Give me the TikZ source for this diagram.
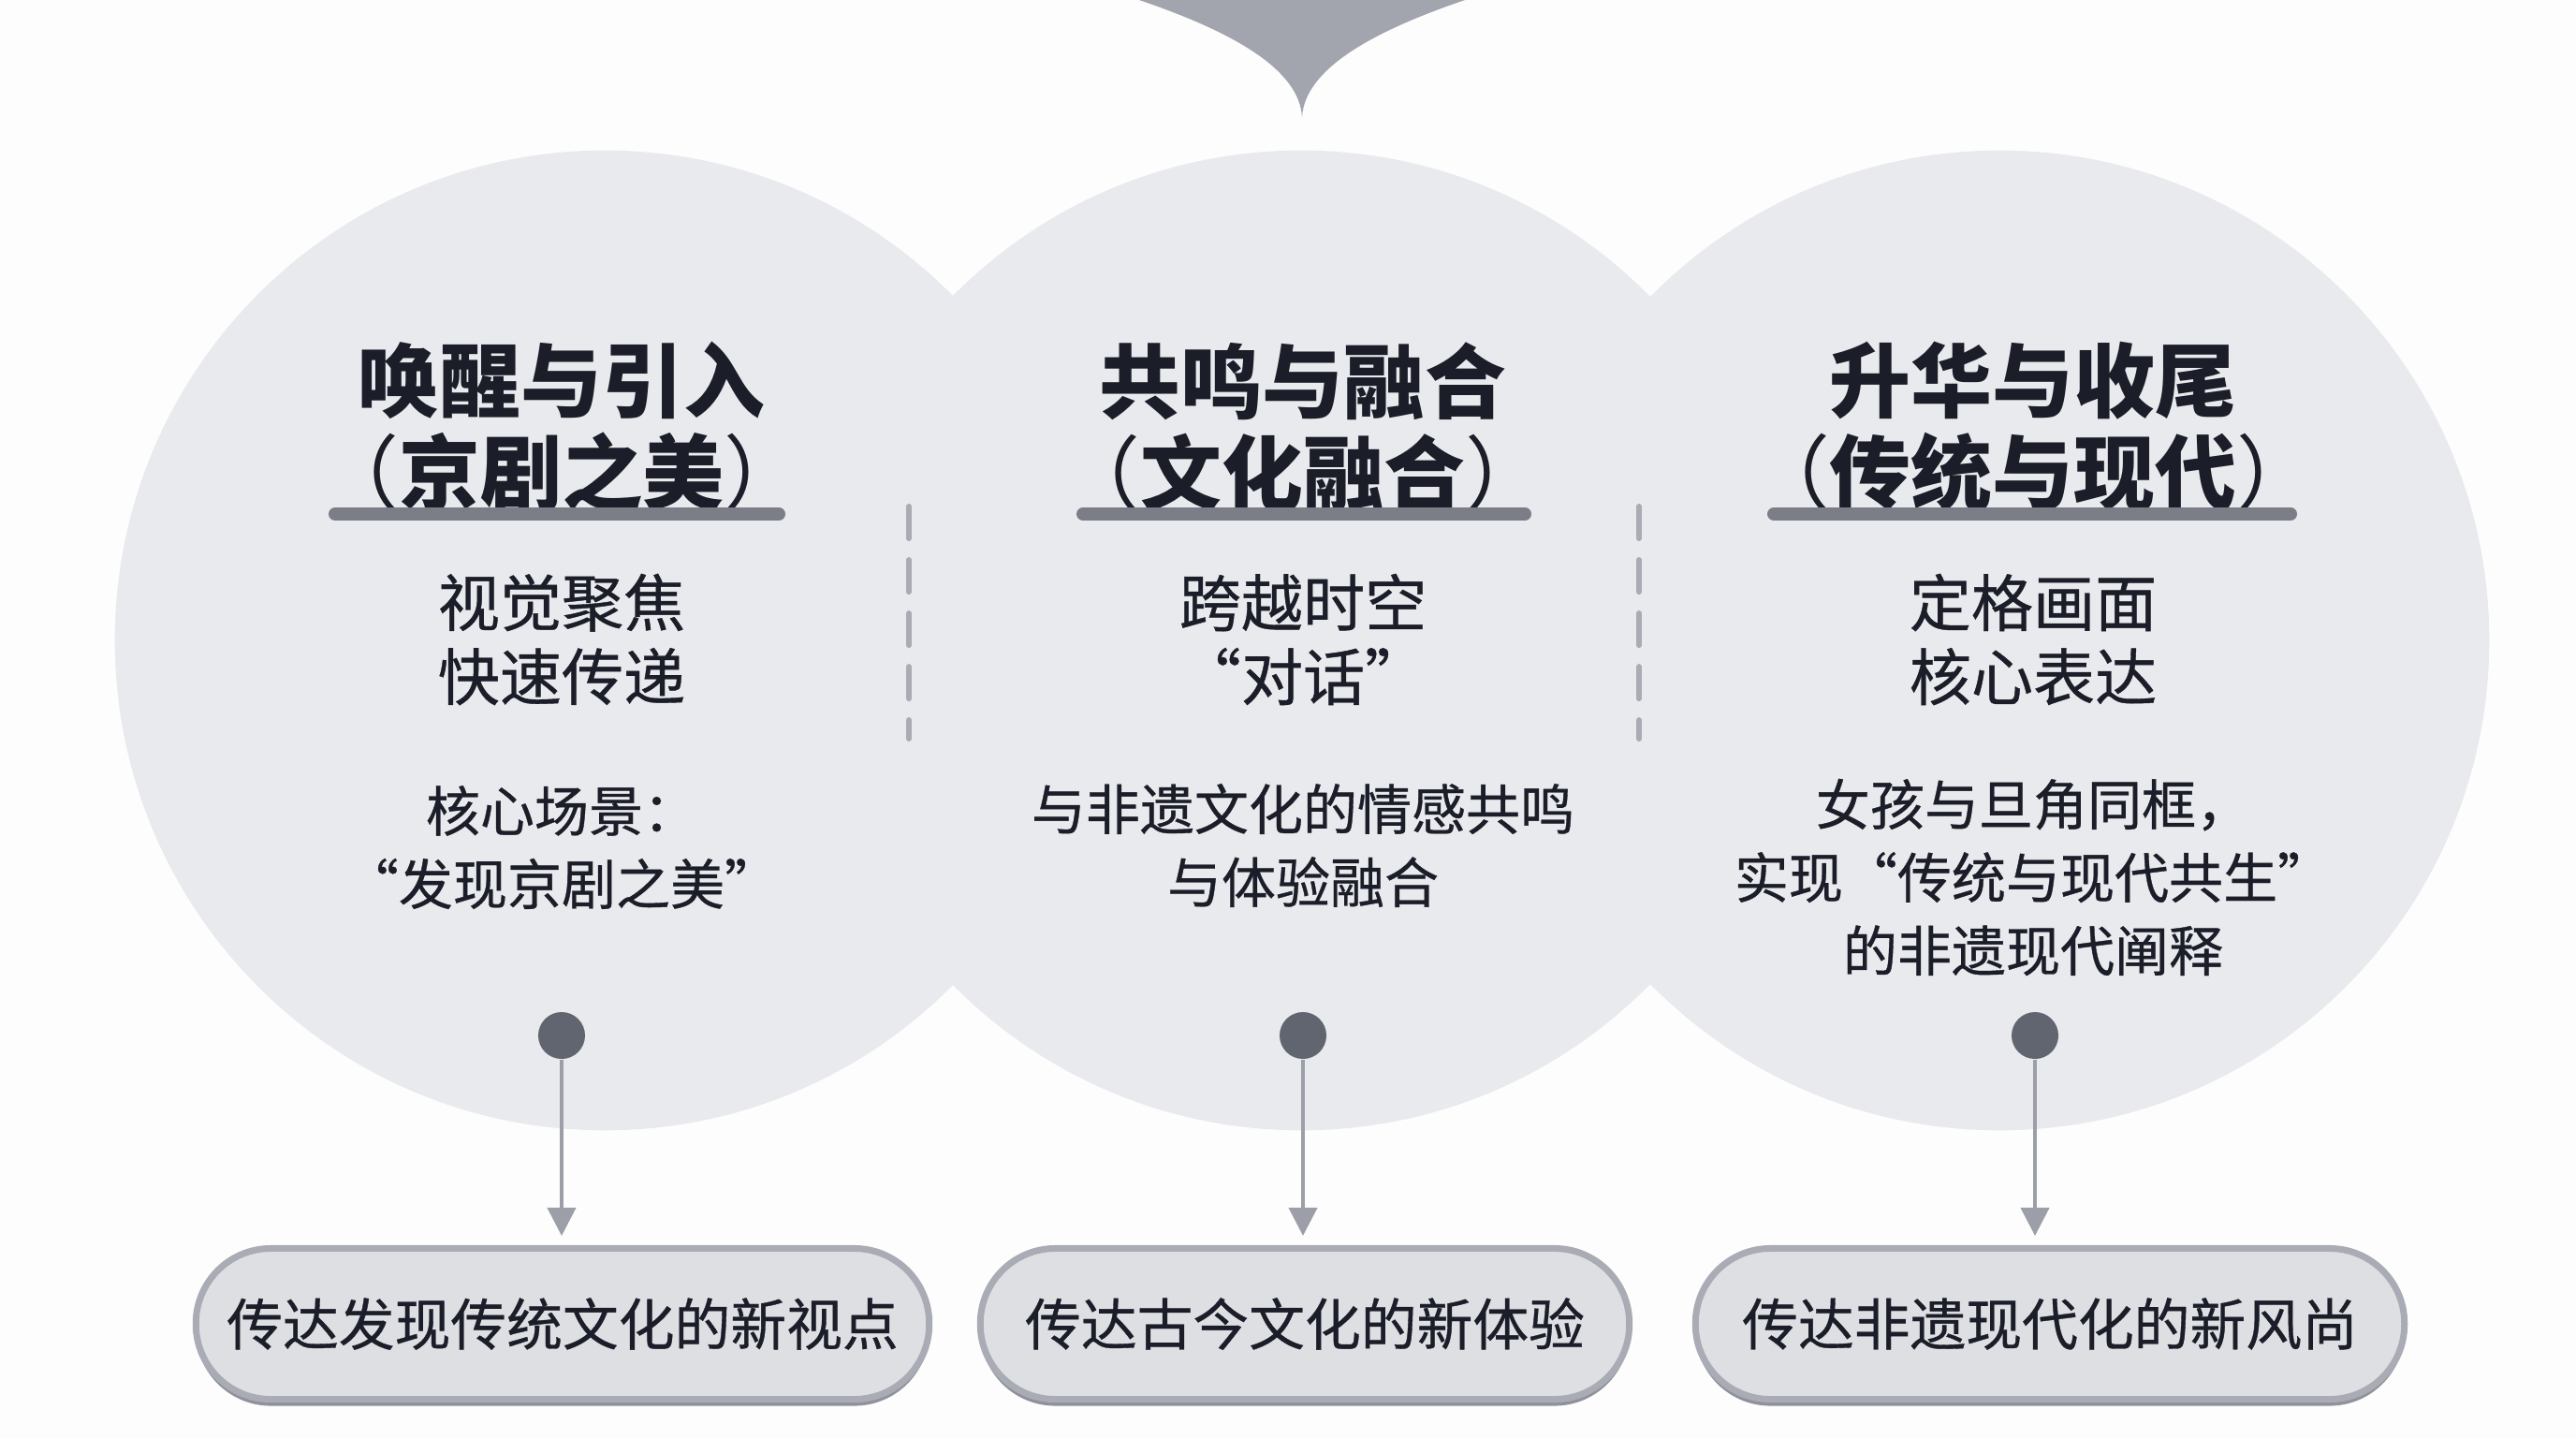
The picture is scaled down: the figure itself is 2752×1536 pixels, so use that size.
\documentclass[tikz,border=0pt]{standalone}
\usepackage{fontspec}
\usetikzlibrary{arrows.meta}
\usetikzlibrary{shapes}
\usetikzlibrary{shadows}
\newfontfamily\cjk{Noto Sans CJK SC}
\newfontfamily\cjkmid{Noto Sans CJK SC}[FakeBold = 0.6]
\definecolor{paper}{HTML}{FDFDFD}
\definecolor{disc}{HTML}{E9EAED}
\definecolor{ink}{HTML}{1B1E29}
\definecolor{bar}{HTML}{7B7E87}
\definecolor{wedge}{HTML}{A2A5AE}
\definecolor{sep}{HTML}{A9ACB3}
\definecolor{pin}{HTML}{60656F}
\definecolor{stem}{HTML}{9C9FA8}
\definecolor{pillfill}{HTML}{DDDFE3}
\definecolor{pillrim}{HTML}{A9ACB4}
\definecolor{pillshade}{HTML}{8F929B}

\begin{document}
\begin{tikzpicture}[x = 0.01cm, y = -0.01cm, font = \cjk]
	\tikzstyle{discStyle} = [shape = circle, minimum size = 10.46cm, inner sep = 0pt, fill = disc]
	\tikzstyle{headStyle} = [align = center, text = ink, inner sep = 0pt, font = \cjk\bfseries\fontsize{24.7}{27.9}\selectfont]
	\tikzstyle{subStyle} = [align = center, text = ink, inner sep = 0pt, font = \cjkmid\fontsize{18.8}{22.5}\selectfont]
	\tikzstyle{bodyStyle} = [align = center, text = ink, inner sep = 0pt, font = \cjkmid\fontsize{16.5}{22.2}\selectfont]
	\tikzstyle{barStyle} = [draw = bar, line width = 0.14cm, line cap = round]
	\tikzstyle{sepStyle} = [draw = sep, line width = 0.06cm, line cap = round, dash pattern = on 0.34cm off 0.23cm]
	\tikzstyle{pinStyle} = [shape = circle, minimum size = 0.5cm, inner sep = 0pt, fill = pin]
	\tikzstyle{stemStyle} = [draw = stem, line width = 0.04cm, -{Triangle[length = 0.3cm, width = 0.3cm]}, shorten > = 0.1cm]
	\tikzstyle{pillStyle} = [shape = rectangle, rounded corners = 0.8cm, minimum height = 1.61cm, fill = pillfill, draw = pillrim, line width = 0.07cm, text = ink, font = \cjkmid\fontsize{17}{22}\selectfont, drop shadow = {shadow xshift = 0cm, shadow yshift = -0.07cm, fill = pillshade, opacity = 1}]
	\useasboundingbox[fill = paper] (0, 0) rectangle (2752, 1536);
	\node[discStyle] (c1) at (646, 684) {};
	\node[discStyle] (c2) at (1390, 684) {};
	\node[discStyle] (c3) at (2136, 684) {};
	\fill[wedge] (1217, -5) -- (1217, 0) .. controls (1320, 35) and (1388, 75) .. (1391, 125) .. controls (1394, 75) and (1462, 35) .. (1565, 0) -- (1565, -5) -- cycle;
	\node[headStyle] (h1) at (600, 456) {唤醒与引入\\{\mdseries（}京剧之美{\mdseries）}};
	\node[headStyle] (h2) at (1392, 456) {共鸣与融合\\{\mdseries（}文化融合{\mdseries）}};
	\node[headStyle] (h3) at (2172, 456) {升华与收尾\\{\mdseries（}传统与现代{\mdseries）}};
	\coordinate (u1a) at (358, 549);
	\coordinate (u1b) at (832, 549);
	\coordinate (u2a) at (1157, 549);
	\coordinate (u2b) at (1629, 549);
	\coordinate (u3a) at (1895, 549);
	\coordinate (u3b) at (2447, 549);
	\draw[barStyle] (u1a) -- (u1b);
	\draw[barStyle] (u2a) -- (u2b);
	\draw[barStyle] (u3a) -- (u3b);
	\coordinate (s1a) at (971, 541);
	\coordinate (s1b) at (971, 789);
	\coordinate (s2a) at (1751, 541);
	\coordinate (s2b) at (1751, 789);
	\draw[sepStyle] (s1a) -- (s1b);
	\draw[sepStyle] (s2a) -- (s2b);
	\node[subStyle] (m1) at (600, 683) {视觉聚焦\\快速传递};
	\node[subStyle] (m2) at (1392, 683) {跨越时空\\“对话”};
	\node[subStyle] (m3) at (2172, 683) {定格画面\\核心表达};
	\node[bodyStyle] (t1) at (600, 905) {核心场景：\\“发现京剧之美”};
	\node[bodyStyle] (t2) at (1392, 903) {与非遗文化的情感共鸣\\与体验融合};
	\node[bodyStyle] (t3) at (2172, 937) {女孩与旦角同框，\\实现“传统与现代共生”\\的非遗现代阐释};
	\node[pinStyle] (p1) at (600, 1106) {};
	\node[pinStyle] (p2) at (1392, 1106) {};
	\node[pinStyle] (p3) at (2174, 1106) {};
	\node[pillStyle, minimum width = 7.83cm] (b1) at (601, 1414) {传达发现传统文化的新视点};
	\node[pillStyle, minimum width = 6.93cm] (b2) at (1394, 1414) {传达古今文化的新体验};
	\node[pillStyle, minimum width = 7.57cm] (b3) at (2190, 1414) {传达非遗现代化的新风尚};
	\draw[stemStyle] (p1) -- (p1 |- b1.north);
	\draw[stemStyle] (p2) -- (p2 |- b2.north);
	\draw[stemStyle] (p3) -- (p3 |- b3.north);
\end{tikzpicture}
\end{document}
